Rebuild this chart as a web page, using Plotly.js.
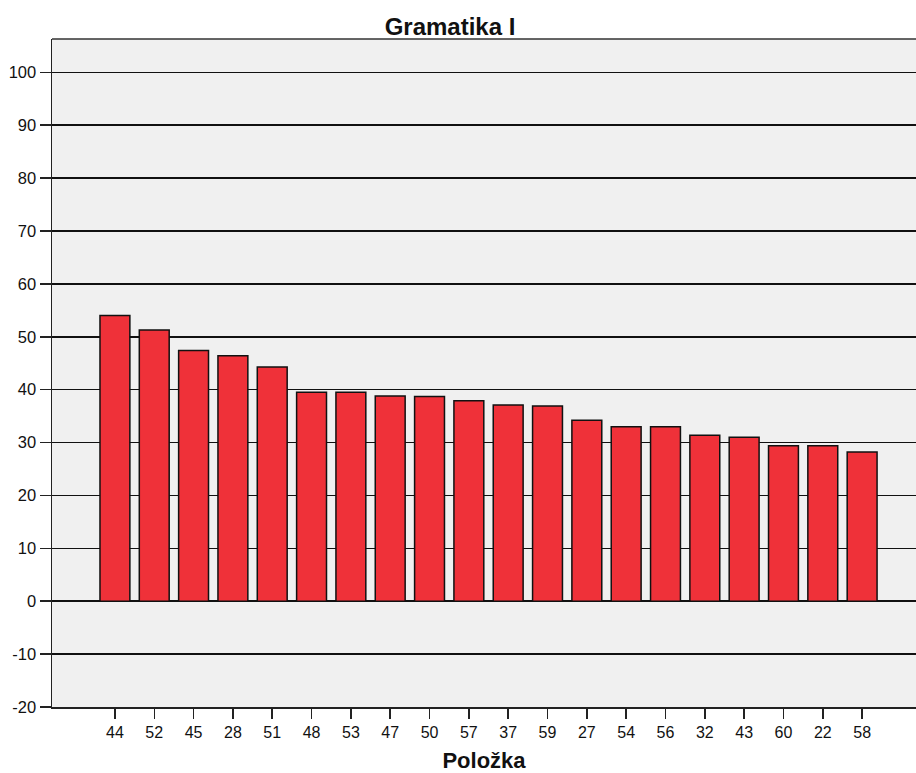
<!DOCTYPE html>
<html>
<head>
<meta charset="utf-8">
<script src="https://cdn.plot.ly/plotly-3.0.1.min.js"></script>
<style>html,body{margin:0;padding:0;background:#fff;}#chart{width:916px;height:773px;}</style>
</head>
<body>
<div id="chart"></div>
<script>
// Data
const categories = ["44","52","45","28","51","48","53","47","50","57","37","59","27","54","56","32","43","60","22","58"];
const values = [54.0, 51.3, 47.4, 46.4, 44.3, 39.5, 39.5, 38.8, 38.7, 37.9, 37.1, 36.9, 34.2, 33.0, 33.0, 31.4, 31.0, 29.4, 29.4, 28.2];
const yTicks = [-20, -10, 0, 10, 20, 30, 40, 50, 60, 70, 80, 90, 100];

const FONT = "Liberation Sans, Arial, sans-serif";

const trace = {
  type: "bar",
  x: categories,
  y: values,
  width: 0.76,
  marker: {color: "#ef3139", line: {color: "#111111", width: 1.5}},
  hoverinfo: "x+y"
};

const layout = {
  width: 916,
  height: 773,
  margin: {l: 52, r: 0, t: 39, b: 66},
  paper_bgcolor: "#ffffff",
  plot_bgcolor: "#f0f0f0",
  showlegend: false,
  font: {family: FONT, color: "#111111", size: 16},
  title: {
    text: "<b>Gramatika I</b>",
    font: {family: FONT, size: 24, color: "#111111"},
    x: 450/916, xref: "container", xanchor: "center",
    y: 1 - 27/773, yref: "container", yanchor: "middle"
  },
  xaxis: {
    type: "category",
    categoryorder: "array",
    categoryarray: categories,
    range: [-1.6, 20.37],
    showgrid: false,
    zeroline: false,
    showline: true,
    linecolor: "#222222",
    linewidth: 1.5,
    ticks: "outside",
    ticklen: 10,
    tickwidth: 1.5,
    tickcolor: "#222222",
    tickfont: {family: FONT, size: 16, color: "#111111"},
    title: {text: "<b>Položka</b>", font: {family: FONT, size: 22, color: "#111111"}, standoff: 13}
  },
  yaxis: {
    range: [-20, 106.3],
    tickvals: yTicks,
    ticktext: yTicks.map(String),
    showgrid: true,
    gridcolor: "#111111",
    gridwidth: 1.6,
    zeroline: true,
    zerolinecolor: "#111111",
    zerolinewidth: 2,
    showline: true,
    linecolor: "#222222",
    linewidth: 1.5,
    ticks: "outside",
    ticklen: 11,
    tickwidth: 1.5,
    tickcolor: "#222222",
    tickfont: {family: FONT, size: 16.5, color: "#111111"}
  },
  shapes: [
    {type: "line", xref: "paper", yref: "paper", x0: 0, x1: 1, y0: 1, y1: 1,
     line: {color: "#333333", width: 1.5}}
  ],
  bargap: 0.24
};

Plotly.newPlot("chart", [trace], layout, {displayModeBar: false, staticPlot: true});
</script>
</body>
</html>
